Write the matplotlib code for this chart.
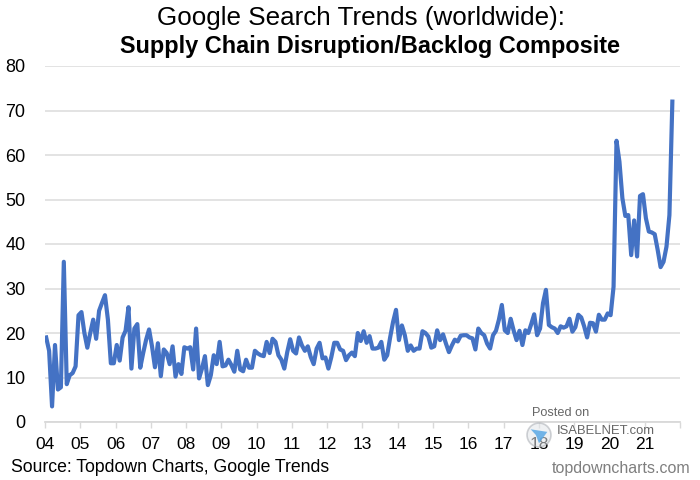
import matplotlib.pyplot as plt
from matplotlib.patches import Circle, Polygon

plt.rcParams['font.family'] = ['Liberation Sans', 'DejaVu Sans']

# monthly values
y2004 = [19, 16, 3.5, 17.3, 7.3, 7.8, 36, 8.5, 10.5, 11, 12.5, 24]
y2005 = [24.7, 20, 16.7, 20, 23, 18.7, 25, 26.8, 28.5, 23, 13.2, 13.2]
y2006 = [17.3, 13.8, 19, 20.5, 25.8, 12, 21, 22, 12.2, 15.5, 18.5, 20.8]
y2007 = [17, 12.3, 17.7, 10.3, 16.3, 15.5, 13, 17, 10.2, 13, 10.8, 16.8]
y2008 = [16.5, 16.8, 11.8, 21, 9.8, 12, 14.8, 8.3, 10.5, 15, 13, 18]
y2009 = [12.5, 12.7, 14, 12.8, 11.3, 16, 11.8, 11.4, 14, 12.2, 12.2, 16]
y2010 = [15.4, 15, 14.8, 18, 15.5, 18.7, 18, 15, 14, 12, 15.7, 18.6]
y2011 = [16, 15.4, 19, 17.2, 16, 17, 14.6, 13, 16.5, 17.8, 14.3, 14.5]
y2012 = [12, 14.6, 17.8, 17.8, 16.3, 16, 13.9, 15, 15.6, 14.8, 20, 18.2]
y2013 = [20.4, 17.8, 19.3, 16.5, 16.5, 16.7, 18, 14, 15, 19, 22.5, 25.2]
y2014 = [18.4, 21.7, 19.5, 16, 17.2, 16, 16.5, 16.5, 20.4, 20, 19.2, 16.7]
y2015 = [17, 20.6, 18.4, 19.7, 17.6, 15.7, 17.2, 18.5, 18.1, 19.4, 19.5, 19.5]
y2016 = [19, 18.8, 16.3, 21, 20, 19.5, 17.6, 16.5, 19.5, 20.5, 23, 26.3]
y2017 = [20.6, 20, 23.2, 20.6, 18.4, 20.5, 17.3, 20.6, 20, 22, 24.2, 19.5]
y2018 = [21, 26.7, 29.7, 21.8, 21.3, 21, 20, 21.5, 21.2, 21.5, 23.2, 20.3]
y2019 = [21.3, 24.1, 23.5, 21.5, 19, 22.3, 22.2, 20.3, 24.1, 23, 23, 24.4]
y2020 = [24, 30.4, 63.2, 58.5, 50.3, 46.3, 46.5, 37.5, 45.3, 37.2, 50.8, 51.2]
y2021 = [45.8, 42.8, 42.6, 42.2, 38.7, 34.8, 36, 39.4, 46.5, 72]

values = (y2004 + y2005 + y2006 + y2007 + y2008 + y2009 + y2010 + y2011 + y2012
          + y2013 + y2014 + y2015 + y2016 + y2017 + y2018 + y2019 + y2020 + y2021)
year_labels = ['04', '05', '06', '07', '08', '09', '10', '11', '12',
               '13', '14', '15', '16', '17', '18', '19', '20', '21']

fig = plt.figure(figsize=(7, 4.8), dpi=100)
ax = fig.add_axes([45 / 700, 1 - 422 / 480, 635 / 700, 356 / 480])

# the points sit a little right of the year ticks
months = [i + 0.4 for i in range(len(values))]
ax.plot(months, values, color='#4472c4', lw=3, solid_joinstyle='round', zorder=3)

ax.set_xlim(0, 216)
ax.set_ylim(0, 80)
ax.set_yticks(range(0, 81, 10))
ax.set_xticks(range(0, 217, 12))
ax.set_xticklabels(year_labels + [''])
ax.grid(axis='y', color='#e0e0e0', lw=1.3)
ax.set_axisbelow(True)
for s in ['top', 'right', 'left']:
    ax.spines[s].set_visible(False)
ax.spines['bottom'].set_color('#d9d9d9')
ax.spines['bottom'].set_linewidth(1.3)
ax.tick_params(axis='y', length=0, labelsize=13, pad=14, colors='black')
ax.tick_params(axis='x', length=4, width=1, color='#d9d9d9', labelsize=12.5, pad=7)

fig.text(361 / 700, 1 - 18 / 480, 'Google Search Trends (worldwide):', ha='center', va='center', fontsize=18.7)
fig.text(370.5 / 700, 1 - 47 / 480, 'Supply Chain Disruption/Backlog Composite', ha='center', va='center',
         fontsize=16.9, fontweight='bold')
fig.text(11 / 700, 1 - 468 / 480, 'Source: Topdown Charts, Google Trends', ha='left', va='center', fontsize=12.7)
fig.text(690 / 700, 1 - 469 / 480, 'topdowncharts.com', ha='right', va='center', fontsize=11.5, color='#7f7f7f')

# isabelnet watermark
fig.text(532 / 700, 1 - 413 / 480, 'Posted on', ha='left', va='center', fontsize=9.2, color='#666666')
fig.text(557 / 700, 1 - 431 / 480, 'ISABELNET.com', ha='left', va='center', fontsize=9.4, color='#666666')
logo = fig.add_axes([526 / 700, 1 - 448 / 480, 26 / 700, 26 / 480])
logo.set_xlim(0, 1)
logo.set_ylim(0, 1)
logo.axis('off')
logo.add_patch(Circle((0.5, 0.5), 0.46, fc='#e3e6ea', ec='#a8acb2', lw=1.2, alpha=0.55))
logo.add_patch(Polygon([(0.18, 0.72), (0.82, 0.62), (0.5, 0.18), (0.38, 0.5)], fc='#5aa9e6', alpha=0.85))

plt.savefig('out.png', dpi=100)
